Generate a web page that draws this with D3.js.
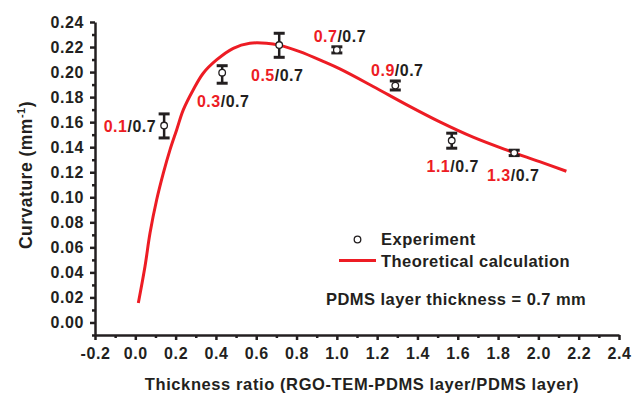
<!DOCTYPE html>
<html>
<head>
<meta charset="utf-8">
<script src="https://cdn.jsdelivr.net/npm/d3@7"></script>
<style>
    body { margin: 0; background: #fff; }
    svg { display: block; font-family: "Liberation Sans", Arial, sans-serif; font-weight: bold; }
</style>
</head>
<body>
<div id="chart"></div>
<script>
// Curvature vs thickness ratio: experiment points + theoretical curve

// experiment (ratio, curvature, error low, error high)
const expRatio = [0.143, 0.431, 0.714, 1.0, 1.29, 1.57, 1.88];
const expCurv  = [0.1573, 0.1995, 0.2216, 0.2177, 0.1892, 0.1453, 0.1355];
const expLow   = [0.1474, 0.1911, 0.2118, 0.2153, 0.1857, 0.1392, 0.1333];
const expHigh  = [0.1666, 0.2051, 0.2310, 0.2202, 0.1929, 0.1512, 0.1376];
const expRed   = ['0.1', '0.3', '0.5', '0.7', '0.9', '1.1', '1.3'];
const expBlack = '/0.7';

// theoretical calculation
const theoX = [0.015, 0.048, 0.073, 0.106, 0.139, 0.172, 0.205, 0.238, 0.287, 0.337, 0.403,
               0.486, 0.568, 0.651, 0.717, 0.816, 0.932, 1.015, 1.180, 1.345, 1.511, 1.676,
               1.841, 2.006, 2.139];
const theoY = [0.0155, 0.0447, 0.0714, 0.0980, 0.1193, 0.1379, 0.1538, 0.1698, 0.1857, 0.1991, 0.2097,
               0.2190, 0.2230, 0.2230, 0.2213, 0.2163, 0.2085, 0.2025, 0.1885, 0.1740, 0.1602, 0.1480,
               0.1378, 0.1285, 0.1208];

const xTicks = d3.range(-0.2, 2.41, 0.2);
const yTicks = d3.range(0, 0.241, 0.02);
const xMinor = d3.range(-0.1, 2.4, 0.2);
const yMinor = d3.range(-0.01, 0.24, 0.02);

// label placement relative to each point: anchor, dx, dy (px)
const labelAnchor = ['end', 'middle', 'middle', 'middle', 'middle', 'middle', 'middle'];
const labelDx = [-8, 1, -2, 3, 2, 1, -1];
const labelDy = [6, 34, 35.5, -8, -9.5, 31, 28.5];

const RED = '#ed1c24';
const INK = '#231f20';

const W = 633, H = 395;
const margin = {top: 22, right: 14, bottom: 60, left: 95};
const width = W - margin.left - margin.right;
const height = H - margin.top - margin.bottom;

// plain hyphen for negatives, like the original
const fmt = f => v => d3.format(f)(v).replace('\u2212', '-');

const svg = d3.select('#chart').append('svg')
    .attr('width', W)
    .attr('height', H);

const g = svg.append('g')
    .attr('transform', `translate(${margin.left},${margin.top})`);

const x = d3.scaleLinear().domain([-0.2, 2.4]).range([0, width]);
const y = d3.scaleLinear().domain([-0.01, 0.24]).range([height, 0]);

// minor ticks
g.append('g')
    .attr('transform', `translate(0,${height})`)
    .call(d3.axisBottom(x).tickValues(xMinor).tickSize(3).tickSizeOuter(0).tickFormat(''))
    .call(a => a.select('.domain').remove());
g.append('g')
    .call(d3.axisLeft(y).tickValues(yMinor).tickSize(3).tickSizeOuter(0).tickFormat(''))
    .call(a => a.select('.domain').remove());

// major axes
g.append('g')
    .attr('transform', `translate(0,${height})`)
    .call(d3.axisBottom(x).tickValues(xTicks).tickSize(5).tickSizeOuter(0).tickPadding(8)
        .tickFormat(fmt('.1f')));
g.append('g')
    .call(d3.axisLeft(y).tickValues(yTicks).tickSize(5).tickSizeOuter(0).tickPadding(6)
        .tickFormat(fmt('.2f')));

g.selectAll('.tick line').attr('stroke', INK).attr('stroke-width', 2.5);
g.selectAll('.domain').attr('stroke', INK).attr('stroke-width', 2.5);
g.selectAll('.tick text')
    .attr('fill', INK)
    .style('font-size', '16px')
    .style('font-family', '"Liberation Sans", Arial, sans-serif')
    .style('font-weight', 'bold')
    .style('letter-spacing', '0.6px');

// theoretical curve
const pts = theoX.map((v, i) => [v, theoY[i]]);
g.append('path')
    .datum(pts)
    .attr('fill', 'none')
    .attr('stroke', RED)
    .attr('stroke-width', 3)
    .attr('d', d3.line().x(d => x(d[0])).y(d => y(d[1])).curve(d3.curveCatmullRom));

// experiment error bars
const exp = expRatio.map((v, i) => ({
    x: v, y: expCurv[i], lo: expLow[i], hi: expHigh[i], red: expRed[i], i
}));

const bars = g.selectAll('.err')
    .data(exp)
    .enter()
    .append('g')
    .attr('class', 'err');

bars.append('line')
    .attr('x1', d => x(d.x)).attr('x2', d => x(d.x))
    .attr('y1', d => y(d.lo)).attr('y2', d => y(d.hi))
    .attr('stroke', INK).attr('stroke-width', 2.5);

[d => d.lo, d => d.hi].forEach(acc => {
    bars.append('line')
        .attr('x1', d => x(d.x) - 5.5).attr('x2', d => x(d.x) + 5.5)
        .attr('y1', d => y(acc(d))).attr('y2', d => y(acc(d)))
        .attr('stroke', INK).attr('stroke-width', 3);
});

bars.append('circle')
    .attr('cx', d => x(d.x))
    .attr('cy', d => y(d.y))
    .attr('r', 3.3)
    .attr('fill', '#fff')
    .attr('stroke', INK)
    .attr('stroke-width', 1.3);

// point labels "0.x/0.7"
const labels = g.selectAll('.lbl')
    .data(exp)
    .enter()
    .append('text')
    .attr('class', 'lbl')
    .attr('x', d => x(d.x) + labelDx[d.i])
    .attr('y', d => y(d.y) + labelDy[d.i])
    .attr('text-anchor', d => labelAnchor[d.i])
    .style('font-size', '16px')
    .style('letter-spacing', '0.5px');
labels.append('tspan').attr('fill', RED).text(d => d.red);
labels.append('tspan').attr('fill', INK).text(expBlack);

// legend
svg.append('circle')
    .attr('cx', 357.5).attr('cy', 239.5).attr('r', 3.3)
    .attr('fill', '#fff').attr('stroke', INK).attr('stroke-width', 1.3);
svg.append('text')
    .attr('x', 381).attr('y', 245)
    .attr('fill', INK).style('font-size', '16.5px').style('letter-spacing', '0.5px')
    .text('Experiment');
svg.append('line')
    .attr('x1', 339).attr('x2', 376).attr('y1', 260.5).attr('y2', 260.5)
    .attr('stroke', RED).attr('stroke-width', 3);
svg.append('text')
    .attr('x', 381).attr('y', 267)
    .attr('fill', INK).style('font-size', '16.5px').style('letter-spacing', '0.45px')
    .text('Theoretical calculation');
svg.append('text')
    .attr('x', 326).attr('y', 305)
    .attr('fill', INK).style('font-size', '16.5px').style('letter-spacing', '0.45px')
    .text('PDMS layer thickness = 0.7 mm');

// axis titles
svg.append('text')
    .attr('x', 362)
    .attr('y', 390)
    .attr('text-anchor', 'middle')
    .attr('fill', INK)
    .style('font-size', '16.5px')
    .style('letter-spacing', '0.6px')
    .text('Thickness ratio (RGO-TEM-PDMS layer/PDMS layer)');

const yTitle = svg.append('text')
    .attr('transform', 'translate(32,175) rotate(-90)')
    .attr('text-anchor', 'middle')
    .attr('fill', INK)
    .style('font-size', '17.5px')
    .style('letter-spacing', '0.5px');
yTitle.append('tspan').text('Curvature (mm');
yTitle.append('tspan').attr('dy', -7).style('font-size', '11px').text('-1');
yTitle.append('tspan').attr('dy', 7).text(')');
</script>
</body>
</html>
